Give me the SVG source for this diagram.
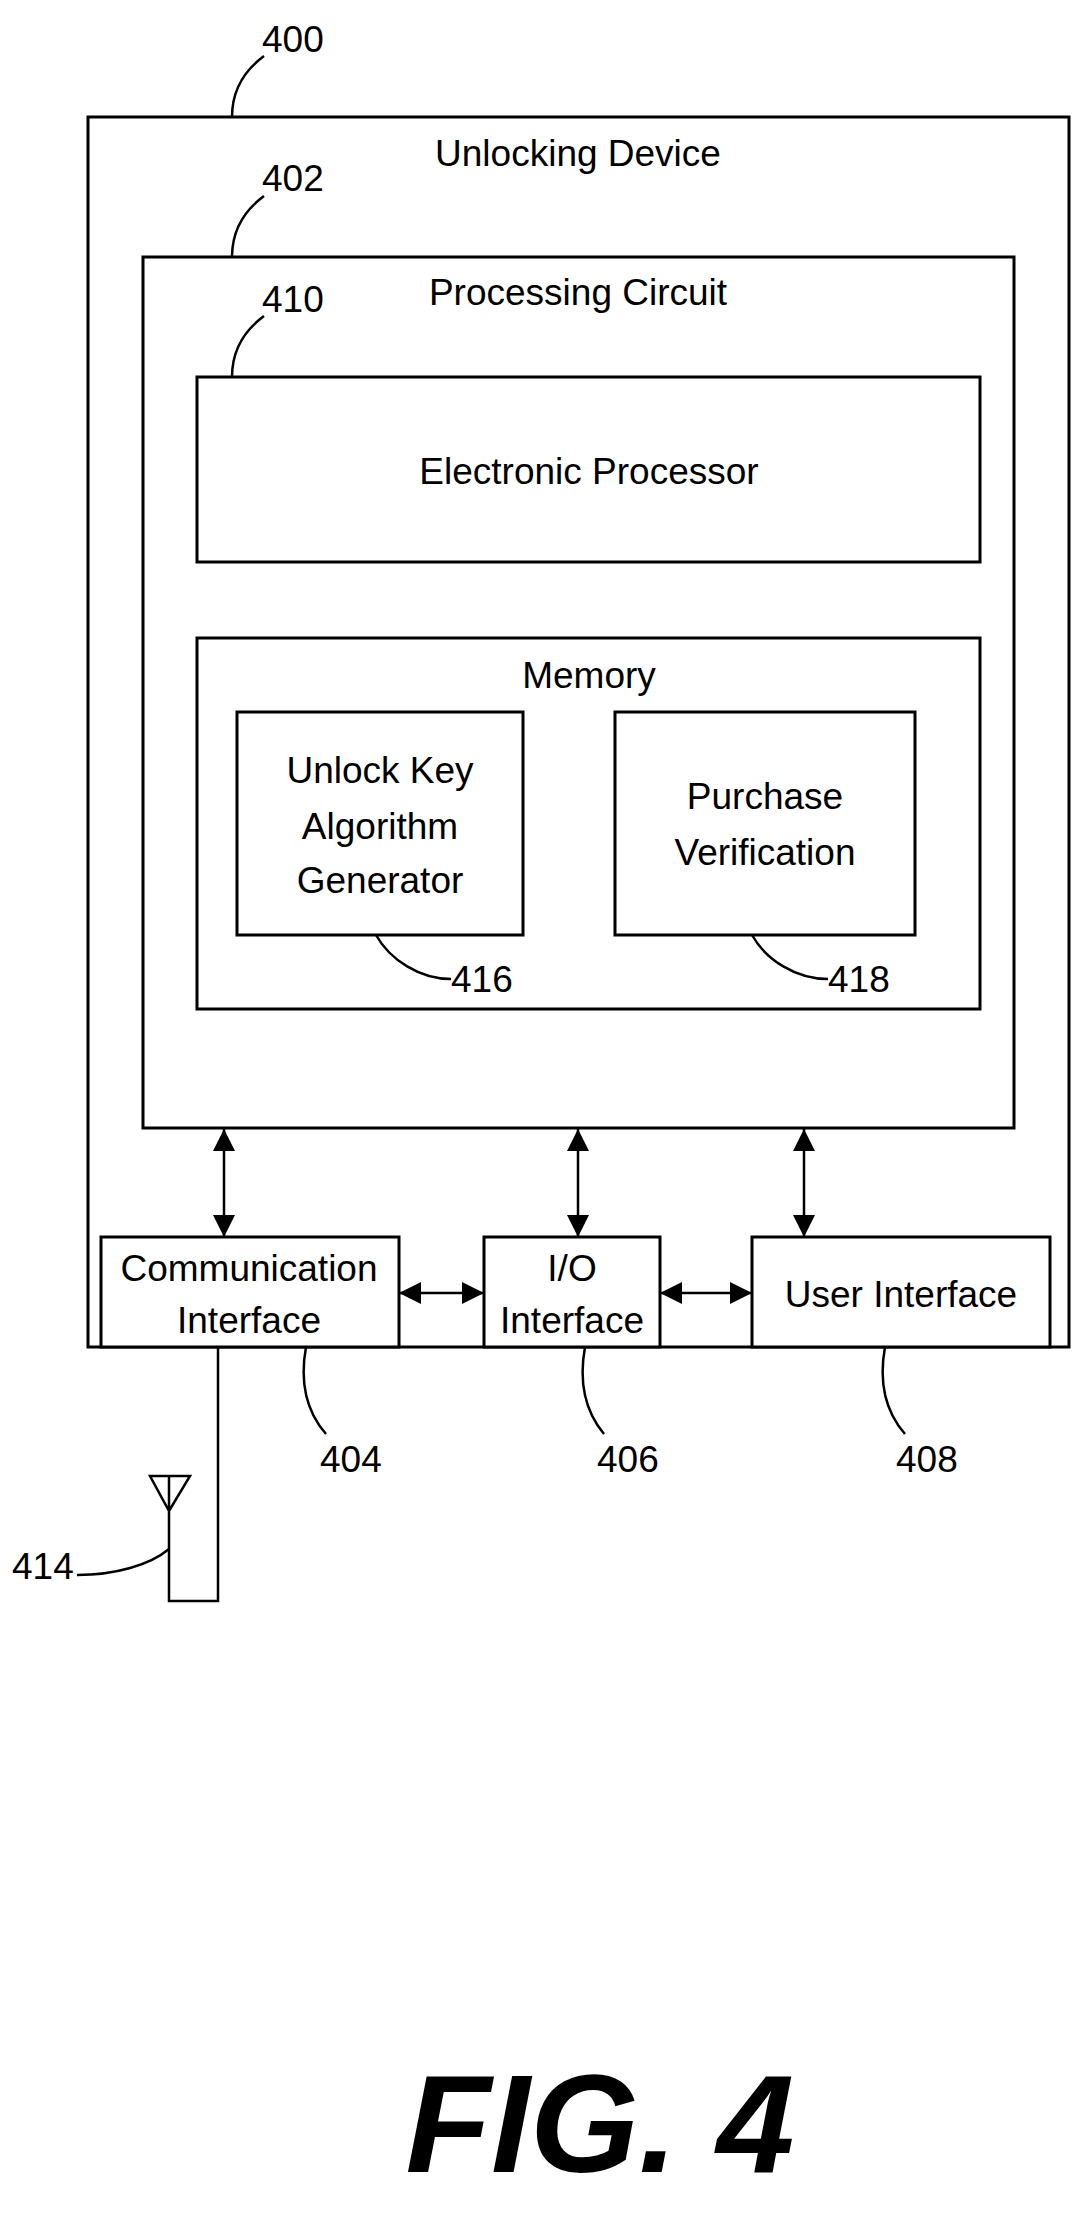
<svg xmlns="http://www.w3.org/2000/svg" width="1086" height="2226" viewBox="0 0 1086 2226">
<style>
.b{fill:#fff;stroke:#000;stroke-width:3}
.l{fill:none;stroke:#000;stroke-width:2.5}
.t{font-family:"Liberation Sans",Arial,sans-serif;font-size:37px;fill:#000;text-anchor:middle}
.n{font-family:"Liberation Sans",Arial,sans-serif;font-size:37px;fill:#000}
</style>
<defs>
<marker id="a" viewBox="0 0 10 10" refX="10" refY="5" markerWidth="22" markerHeight="22" markerUnits="userSpaceOnUse" orient="auto-start-reverse"><path d="M0,0L10,5L0,10z" fill="#000"/></marker>
</defs>
<g id="n400"><rect class="b" x="88" y="117" width="981" height="1230"/><text class="t" x="578" y="166">Unlocking Device</text></g>
<g id="n402"><rect class="b" x="143" y="257" width="871" height="871"/><text class="t" x="578" y="305">Processing Circuit</text></g>
<g id="n410"><rect class="b" x="197" y="377" width="783" height="185"/><text class="t" x="589" y="484">Electronic Processor</text></g>
<g id="mem"><rect class="b" x="197" y="638" width="783" height="371"/><text class="t" x="589" y="688">Memory</text></g>
<g id="n416"><rect class="b" x="237" y="712" width="286" height="223"/><text class="t" x="380" y="783">Unlock Key</text><text class="t" x="380" y="839">Algorithm</text><text class="t" x="380" y="893">Generator</text></g>
<g id="n418"><rect class="b" x="615" y="712" width="300" height="223"/><text class="t" x="765" y="809">Purchase</text><text class="t" x="765" y="865">Verification</text></g>
<g id="n404"><rect class="b" x="101" y="1237" width="298" height="110"/><text class="t" x="249" y="1281">Communication</text><text class="t" x="249" y="1333">Interface</text></g>
<g id="n406"><rect class="b" x="484" y="1237" width="176" height="110"/><text class="t" x="572" y="1281">I/O</text><text class="t" x="572" y="1333">Interface</text></g>
<g id="n408"><rect class="b" x="752" y="1237" width="298" height="110"/><text class="t" x="901" y="1307">User Interface</text></g>
<g id="n414"><path class="l" d="M218,1347V1601H169V1476M150,1476H190L169,1511Z"/></g>
<g id="connectors">
<line class="l" x1="224" y1="1129" x2="224" y2="1237" marker-start="url(#a)" marker-end="url(#a)"/>
<line class="l" x1="578" y1="1129" x2="578" y2="1237" marker-start="url(#a)" marker-end="url(#a)"/>
<line class="l" x1="804" y1="1129" x2="804" y2="1237" marker-start="url(#a)" marker-end="url(#a)"/>
<line class="l" x1="399" y1="1293" x2="484" y2="1293" marker-start="url(#a)" marker-end="url(#a)"/>
<line class="l" x1="660" y1="1293" x2="752" y2="1293" marker-start="url(#a)" marker-end="url(#a)"/>
</g>
<g id="labels">
<path class="l" d="M264,56C245,70 232,90 232,117"/><text class="n" x="262" y="52">400</text>
<path class="l" d="M264,196C245,210 232,230 232,257"/><text class="n" x="262" y="191">402</text>
<path class="l" d="M264,316C245,330 232,350 232,377"/><text class="n" x="262" y="312">410</text>
<path class="l" d="M376,935C390,960 420,979 451,979"/><text class="n" x="451" y="992">416</text>
<path class="l" d="M752,935C766,960 796,979 828,979"/><text class="n" x="828" y="992">418</text>
<path class="l" d="M306,1347C300,1380 305,1410 326,1434"/><text class="n" x="320" y="1472">404</text>
<path class="l" d="M585,1347C579,1380 584,1410 604,1434"/><text class="n" x="597" y="1472">406</text>
<path class="l" d="M885,1347C879,1380 884,1410 905,1434"/><text class="n" x="896" y="1472">408</text>
<path class="l" d="M77,1575C115,1575 150,1565 169,1549"/><text class="n" x="12" y="1579">414</text>
</g>
<text x="600" y="2172" font-family="Liberation Sans,Arial,sans-serif" font-size="140" font-weight="bold" font-style="italic" text-anchor="middle">FIG. 4</text>
</svg>
